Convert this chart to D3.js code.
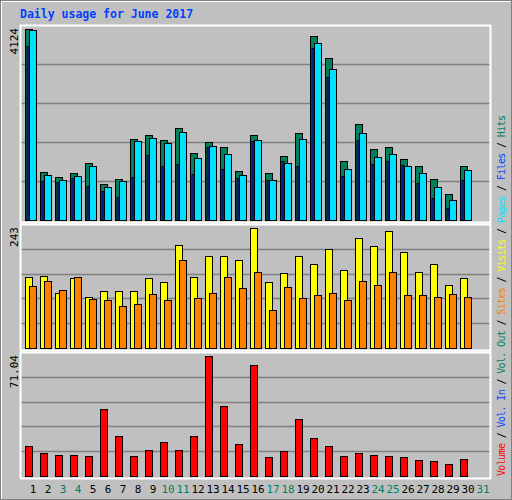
<!DOCTYPE html>
<html><head><meta charset="utf-8">
<script src="https://cdn.jsdelivr.net/npm/d3@7"></script>
<style>body{margin:0;background:#fff}</style>
</head><body>
<svg id="chart" width="512" height="500"></svg>
<script>
// values
var days = d3.range(1, 32);
var weekend = [3, 4, 10, 11, 17, 18, 24, 25, 31];
var hits = [4124,1036,928,1015,1231,777,885,1749,1835,1727,1986,1447,1684,1576,1058,1835,1015,1382,1878,3973,3498,1274,2073,1533,1576,1317,1166,885,561,1166];
var pages = [4102,972,864,950,1166,712,842,1706,1770,1662,1900,1339,1598,1425,972,1727,864,1231,1749,3821,3260,1101,1878,1360,1425,1166,1015,712,432,1080];
var files = [3757,842,820,907,734,626,497,928,1403,1166,1209,993,1576,1101,907,1706,864,1274,1166,3713,3087,950,1727,1209,1274,1187,799,475,259,864];
var visits = [143,145,111,141,103,115,115,115,141,133,208,143,186,186,178,243,133,151,186,171,200,157,222,206,236,194,153,170,127,141];
var sites = [125,135,117,143,99,97,86,90,109,97,178,101,111,143,121,153,76,123,101,107,111,97,135,127,153,107,107,103,109,103];
var volume = [18.0,13.85,12.66,12.66,12.07,39.38,23.94,12.07,15.63,20.38,15.63,23.94,71.04,41.16,19.19,65.5,11.48,15.04,34.04,22.76,18.0,12.07,13.85,12.66,12.07,11.48,9.70,9.10,7.32,10.29];
var legend = [["Volume","#ff0000"],[" / ","#000"],["Vol. In","#0040ff"],[" / ","#000"],["Vol. Out","#00805c"],[" / ","#000"],
  ["Sites","#ff8000"],[" / ","#000"],["Visits","#ffff00"],[" / ","#000"],["Pages","#00e0ff"],[" / ","#000"],["Files","#0040ff"],[" / ","#000"],["Hits","#00805c"]];

var svg = d3.select('#chart');
var font = "'DejaVu Sans Mono', monospace";

// background and outer border
svg.append('rect').attr('x', 0.5).attr('y', 0.5).attr('width', 511).attr('height', 499)
    .attr('fill', '#c0c0c0').attr('stroke', '#808080');
svg.append('path').attr('d', 'M1.5,498.5V1.5H510.5').attr('stroke', '#fff').attr('fill', 'none');

svg.append('text').attr('x', 20).attr('y', 18).text('Daily usage for June 2017')
    .attr('font-family', font).attr('font-weight', 'bold').attr('font-size', 11.5).attr('fill', '#0040ff');

var x = d3.scaleLinear().domain([1, 31]).range([25, 475]);

// panel: frame, 4 gridlines, rotated max label; bar tops sit a little below the frame top
function panel(top, bottom, max, label) {
    var y = d3.scaleLinear().domain([0, max]).range([bottom, top + 4]);
    var step = (bottom - top) / 5;
    for (var i = 1; i < 5; i++) {
        svg.append('line').attr('x1', 21).attr('x2', 490)
            .attr('y1', Math.round(bottom - step * i) + 0.5).attr('y2', Math.round(bottom - step * i) + 0.5)
            .attr('stroke', '#808080').attr('stroke-width', 1.5);
    }
    svg.append('path').attr('d', 'M20.5,' + (bottom + 2.5) + 'V' + (top + 0.5) + 'H490.5V' + (bottom + 2.5) + 'H20.5')
        .attr('stroke', '#fff').attr('fill', 'none').attr('stroke-width', 2);
    svg.append('text').attr('transform', 'translate(18,' + (top + 3) + ') rotate(-90)')
        .attr('text-anchor', 'end').attr('font-family', font).attr('font-size', 11).text(label);
    return y;
}

function bars(data, y, dx, w, color) {
    svg.append('g').selectAll('rect').data(data).enter().append('rect')
        .attr('x', function(d, i) { return x(i + 1) + dx + 0.5; })
        .attr('y', function(d) { return Math.round(y(d)) + 0.5; })
        .attr('width', w)
        .attr('height', function(d) { return y(0) - Math.round(y(d)); })
        .attr('fill', color).attr('stroke', '#000');
}

// top panel: hits / pages / files
var y1 = panel(25, 220, 4124, '4124');
bars(hits, y1, 0, 7, '#00805c');
bars(files, y1, 1.5, 2, '#0040ff');
bars(pages, y1, 4, 7, '#00e0ff');

// middle panel: visits / sites
var y2 = panel(224, 348, 243, '243');
bars(visits, y2, 0, 7, '#ffff00');
bars(sites, y2, 4, 7, '#ff8000');

// bottom panel: volume
var y3 = panel(352, 476, 71.04, '71.04');
bars(volume, y3, 0, 7, '#ff0000');

// day labels
svg.append('g').selectAll('text').data(days).enter().append('text')
    .attr('x', function(d) { return x(d) + 8; })
    .attr('y', 493).attr('text-anchor', 'middle')
    .attr('font-family', font).attr('font-size', 11)
    .attr('fill', function(d) { return weekend.indexOf(d) >= 0 ? '#00805c' : '#000'; })
    .text(function(d) { return d; });

// right-hand legend
var lg = svg.append('text').attr('transform', 'translate(505,476) rotate(-90)')
    .attr('font-family', font).attr('font-size', 10).attr('textLength', 361).attr('lengthAdjust', 'spacing');
legend.forEach(function(p) { lg.append('tspan').attr('fill', p[1]).text(p[0]); });
</script>
</body></html>
